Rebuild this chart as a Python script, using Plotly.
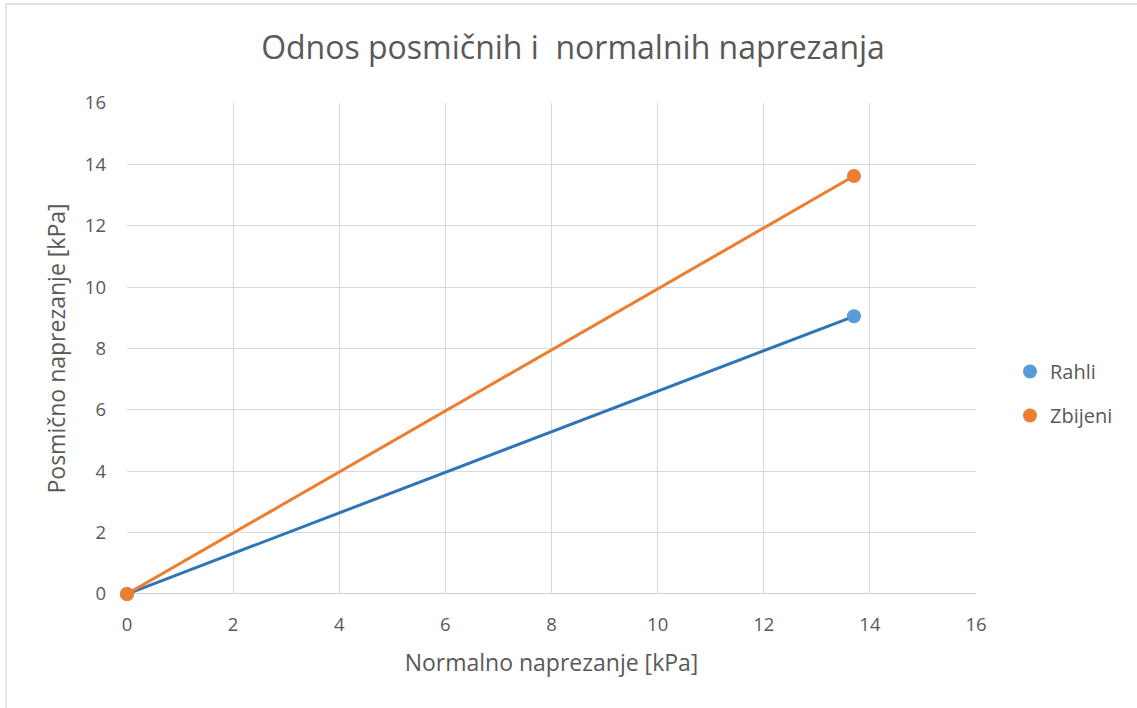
import plotly.graph_objects as go

series_names = ["Rahli", "Zbijeni"]
normal_stress = [0.0, 13.7]
shear_rahli = [0.0, 9.05]
shear_zbijeni = [0.0, 13.62]

x_ticks = [0, 2, 4, 6, 8, 10, 12, 14, 16]
y_ticks = [0, 2, 4, 6, 8, 10, 12, 14, 16]

marker_colors = ["#5B9BD5", "#ED7D31"]
line_colors = ["#2E75B6", "#ED7D31"]
font_family = "Open Sans, Lato, sans-serif"
text_color = "#595959"

fig = go.Figure()
for name, ys, lc in zip(series_names, [shear_rahli, shear_zbijeni], line_colors):
    fig.add_trace(go.Scatter(x=normal_stress, y=ys, mode="lines", cliponaxis=False,
                             line=dict(color=lc, width=3), showlegend=False, hoverinfo="skip"))
for name, ys, mc in zip(series_names, [shear_rahli, shear_zbijeni], marker_colors):
    fig.add_trace(go.Scatter(x=normal_stress, y=ys, mode="markers", name=name, legendgroup=name,
                             cliponaxis=False, marker=dict(color=mc, size=14)))

W, H = 1137, 708
l, r, t, b = 127, 161, 103, 114
pw, ph = W - l - r, H - t - b

def px_to_paper_x(px):
    return (px - l) / pw

def px_to_paper_y(py):
    return (H - b - py) / ph

fig.add_shape(type="rect", xref="paper", yref="paper",
              x0=px_to_paper_x(6), x1=px_to_paper_x(1300),
              y0=px_to_paper_y(900), y1=px_to_paper_y(4),
              line=dict(color="#D9D9D9", width=1.3), fillcolor="rgba(0,0,0,0)", layer="below")

fig.update_layout(
    width=W, height=H,
    margin=dict(l=l, r=r, t=t, b=b),
    paper_bgcolor="white", plot_bgcolor="white",
    font=dict(family=font_family, color=text_color, size=18),
    title=dict(text="Odnos posmičnih i  normalnih naprezanja", x=573 / W, xanchor="center",
               xref="container", yref="container", y=1 - 48 / H, yanchor="middle",
               font=dict(size=32, color=text_color, family=font_family)),
    xaxis=dict(range=[0, 16], tickvals=x_ticks, showgrid=True, gridcolor="#D9D9D9", gridwidth=1.3,
               zeroline=False, showline=False, ticks="", ticklen=0, ticklabelstandoff=17,
               tickfont=dict(size=18.5, color=text_color),
               title=dict(text="Normalno naprezanje [kPa]", font=dict(size=23, color=text_color), standoff=20)),
    yaxis=dict(range=[0, 16], tickvals=y_ticks, showgrid=True, gridcolor="#D9D9D9", gridwidth=1.3,
               zeroline=False, showline=False, ticks="", ticklen=0, ticklabelstandoff=20,
               tickfont=dict(size=18.5, color=text_color),
               title=dict(text="Posmično naprezanje [kPa]", font=dict(size=23, color=text_color), standoff=12)),
    legend=dict(x=px_to_paper_x(1010), y=px_to_paper_y(352), xanchor="left", yanchor="top",
                font=dict(size=20, color=text_color), itemsizing="trace",
                tracegroupgap=15, itemwidth=30, bgcolor="rgba(0,0,0,0)"),
    showlegend=True,
)
fig.add_shape(type="line", xref="paper", yref="y", x0=0, x1=1, y0=0, y1=0,
              line=dict(color="#BFBFBF", width=1.3), layer="below")

fig.write_html("out.html", config={"displayModeBar": False},
               post_script="document.body.style.margin='0';")
